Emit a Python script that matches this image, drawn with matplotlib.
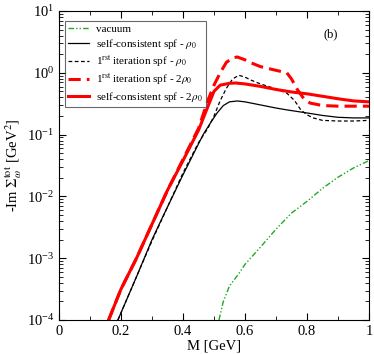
import numpy as np
import matplotlib
matplotlib.use("Agg")
import matplotlib.pyplot as plt
from matplotlib.ticker import MultipleLocator, LogLocator, NullFormatter

plt.rcParams['font.family'] = ['Liberation Serif', 'DejaVu Serif']
plt.rcParams['mathtext.fontset'] = 'stix'

# vacuum
m_vac = [0.516, 0.53, 0.55, 0.58, 0.60, 0.65, 0.70, 0.75, 0.80, 0.85, 0.90, 0.95, 1.00]
lg_vac = [-4.0, -3.7, -3.45, -3.25, -3.1, -2.82, -2.53, -2.27, -2.08, -1.87, -1.69, -1.54, -1.42]

# self-consistent spf, rho0
m_sc1 = [0.19, 0.25, 0.30, 0.33, 0.40, 0.465, 0.49, 0.51, 0.53, 0.55, 0.575, 0.60, 0.65,
         0.70, 0.735, 0.80, 0.85, 0.90, 0.95, 1.00]
lg_sc1 = [-4.0, -3.3, -2.7, -2.38, -1.65, -1.0, -0.8, -0.65, -0.53, -0.47, -0.456, -0.47,
          -0.52, -0.57, -0.6, -0.65, -0.69, -0.72, -0.73, -0.73]

# 1st iteration spf, rho0
m_it1 = [0.19, 0.25, 0.30, 0.35, 0.40, 0.45, 0.48, 0.50, 0.52, 0.54, 0.56, 0.58, 0.60,
         0.62, 0.65, 0.70, 0.735, 0.76, 0.78, 0.80, 0.82, 0.85, 0.90, 0.95, 1.00]
lg_it1 = [-4.0, -3.3, -2.72, -2.17, -1.62, -1.13, -0.9, -0.7, -0.45, -0.25, -0.1, -0.04,
          -0.07, -0.12, -0.18, -0.26, -0.33, -0.45, -0.6, -0.68, -0.73, -0.77, -0.78,
          -0.78, -0.77]

# 1st iteration spf, 2rho0
m_it2 = [0.16, 0.20, 0.25, 0.30, 0.35, 0.40, 0.45, 0.48, 0.50, 0.52, 0.54, 0.56, 0.575,
         0.60, 0.62, 0.65, 0.70, 0.735, 0.75, 0.77, 0.79, 0.81, 0.85, 0.90, 0.95, 1.00]
lg_it2 = [-4.0, -3.5, -3.0, -2.45, -1.9, -1.4, -0.9, -0.45, -0.2, 0.0, 0.17, 0.24, 0.256,
          0.21, 0.16, 0.1, 0.04, 0.0, -0.1, -0.28, -0.42, -0.49, -0.53, -0.54, -0.54, -0.54]

# self-consistent spf, 2rho0
m_sc2 = [0.16, 0.20, 0.25, 0.30, 0.35, 0.40, 0.45, 0.48, 0.50, 0.52, 0.55, 0.57, 0.60,
         0.65, 0.70, 0.75, 0.80, 0.85, 0.90, 0.95, 1.00]
lg_sc2 = [-4.0, -3.5, -3.0, -2.45, -1.9, -1.42, -0.93, -0.55, -0.3, -0.2, -0.17, -0.165,
          -0.18, -0.22, -0.27, -0.31, -0.34, -0.38, -0.42, -0.455, -0.47]

x_ticks = [0, 0.2, 0.4, 0.6, 0.8, 1.0]
x_labels = ['0', '0.2', '0.4', '0.6', '0.8', '1']

fig = plt.figure(figsize=(3.74, 3.54), dpi=100)
ax = fig.add_axes([59/374, 34/354, 310/374, 309/354])

ax.plot(m_vac, 10**np.array(lg_vac), color='#22a822', lw=1.0,
        dashes=[4, 1.5, 1, 1.5, 1, 1.5], label='vacuum')
ax.plot(m_sc1, 10**np.array(lg_sc1), color='black', lw=0.9,
        label=r'self-consistent spf - $\rho_0$')
ax.plot(m_it1, 10**np.array(lg_it1), color='black', lw=0.9, dashes=[3, 2],
        label=r'1$^{\rm rst}$ iteration spf - $\rho_0$')
ax.plot(m_it2, 10**np.array(lg_it2), color='red', lw=2.2, dashes=[4, 2],
        label=r'1$^{\rm rst}$ iteration spf - 2$\rho_0$')
ax.plot(m_sc2, 10**np.array(lg_sc2), color='red', lw=2.2,
        label=r'self-consistent spf - 2$\rho_0$')

ax.set_yscale('log')
ax.set_xlim(0, 1)
ax.set_ylim(1e-4, 10)
ax.set_xticks(x_ticks)
ax.set_xticklabels(x_labels)
ax.xaxis.set_minor_locator(MultipleLocator(0.1))
ax.yaxis.set_major_locator(LogLocator(base=10, numticks=10))
ax.yaxis.set_minor_locator(LogLocator(base=10, subs=np.arange(2, 10), numticks=20))
ax.yaxis.set_minor_formatter(NullFormatter())
ax.tick_params(which='both', direction='in', top=True, right=True, labelsize=10.5)
ax.tick_params(which='major', length=5)
ax.tick_params(which='minor', length=3)

ax.set_xlabel('M [GeV]', fontsize=10.5, labelpad=1)
ax.set_ylabel(r'-Im $\Sigma_\omega^{\rm tot}$ [GeV$^2$]', fontsize=10.5, labelpad=2)
ax.text(0.875, 0.925, '(b)', transform=ax.transAxes, fontsize=9, ha='center', va='center')

leg = ax.legend(loc='upper left', bbox_to_anchor=(0.019, 0.968), borderaxespad=0,
                fontsize=8, fancybox=False, handlelength=1.9, labelspacing=0.25,
                borderpad=0.3, handletextpad=0.6)
leg.get_frame().set_edgecolor('#444444')
leg.get_frame().set_linewidth(0.8)

fig.savefig('out.png', dpi=100)
